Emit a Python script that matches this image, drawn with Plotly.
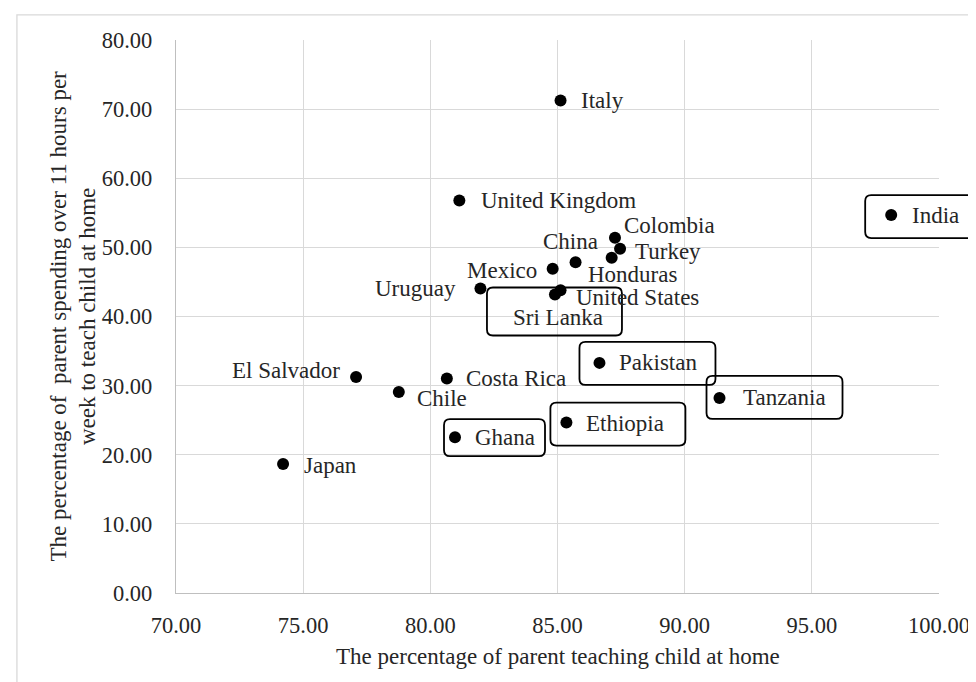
import plotly.graph_objects as go

# ---------------- data ----------------
countries = ["Italy", "United Kingdom", "Colombia", "Turkey", "Honduras", "China",
             "Mexico", "Uruguay", "United States", "Sri Lanka", "El Salvador",
             "Costa Rica", "Chile", "Ghana", "Japan", "Ethiopia", "Pakistan",
             "Tanzania", "India"]
teach_pct = [85.12, 81.14, 87.26, 87.46, 87.13, 85.71, 84.81, 81.97, 85.12, 84.90,
             77.08, 80.65, 78.76, 80.97, 74.21, 85.35, 86.65, 91.37, 98.12]
hours_pct = [71.26, 56.78, 51.38, 49.79, 48.49, 47.86, 46.90, 44.04, 43.81, 43.18,
             31.26, 31.02, 29.09, 22.54, 18.67, 24.65, 33.29, 28.22, 54.67]

x_title = "The percentage of parent teaching child at home"
y_title = "The percentage of \u00a0parent spending over 11 hours per<br>week to teach child at home"

X_RANGE = [70, 100]
Y_RANGE = [0, 80]

# ---------------- label placement (pixel offsets from the point) ----------------
# (xanchor, xshift, yshift)  yshift positive = up
label_pos = {
    "Italy": ("left", 18, 0),
    "United Kingdom": ("left", 20, 0),
    "Colombia": ("left", 7, 12),
    "Turkey": ("left", 13, -3),
    "Honduras": ("left", -26, -17),
    "China": ("center", -5, 21),
    "Mexico": ("right", -14, -2),
    "Uruguay": ("right", -22, 0),
    "United States": ("left", 13, -7),
    "Sri Lanka": ("center", 3, -23),
    "El Salvador": ("right", -14, 6),
    "Costa Rica": ("left", 17, 0),
    "Chile": ("left", 16, -7),
    "Ghana": ("left", 18, 0),
    "Japan": ("left", 19, -2),
    "Ethiopia": ("left", 18, -1),
    "Pakistan": ("left", 18, 0),
    "Tanzania": ("left", 21, 0),
    "India": ("left", 19, 0),
}
# boxed labels: (left, right, top, bottom) in screen px relative to the point (down positive)
boxes = {
    "Pakistan": (-20, 116, -21, 22),
    "Tanzania": (-13, 123, -22, 21),
    "Ethiopia": (-16, 119, -20, 23),
    "Ghana": (-11, 90, -18, 19),
    "India": (-26, 93, -20, 23),
    "Sri Lanka": (-68, 67, -7, 41),
}

FONT = "Liberation Serif, Times New Roman, serif"
TXT = "#262626"

fig = go.Figure()
fig.add_trace(go.Scatter(
    x=teach_pct, y=hours_pct, mode="markers",
    marker=dict(size=12, color="black"),
    text=countries, hoverinfo="text+x+y", showlegend=False,
))

annotations = []
for c, xv, yv in zip(countries, teach_pct, hours_pct):
    anc, xs, ys = label_pos[c]
    annotations.append(dict(
        x=xv, y=yv, xref="x", yref="y", text=c, showarrow=False,
        xanchor=anc, yanchor="middle", xshift=xs, yshift=ys,
        font=dict(family=FONT, size=23, color=TXT),
    ))

# axis titles
annotations.append(dict(
    x=0.5, y=0, xref="paper", yref="paper", text=x_title, showarrow=False,
    xanchor="center", yanchor="middle", yshift=-63,
    font=dict(family=FONT, size=23, color=TXT),
))
annotations.append(dict(
    x=0, y=0.5, xref="paper", yref="paper", text=y_title, showarrow=False,
    xanchor="center", yanchor="middle", xshift=-103, textangle=-90,
    font=dict(family=FONT, size=23, color=TXT),
))

def rounded_path(l, r, b, t, rad=6):
    return (f"M {l+rad},{b} L {r-rad},{b} Q {r},{b} {r},{b+rad} "
            f"L {r},{t-rad} Q {r},{t} {r-rad},{t} L {l+rad},{t} "
            f"Q {l},{t} {l},{t-rad} L {l},{b+rad} Q {l},{b} {l+rad},{b} Z")

shapes = []
for c, xv, yv in zip(countries, teach_pct, hours_pct):
    if c in boxes:
        L, R, T, B = boxes[c]
        shapes.append(dict(
            type="path", xref="paper", yref="paper",
            xsizemode="pixel", ysizemode="pixel",
            xanchor=(xv - X_RANGE[0]) / (X_RANGE[1] - X_RANGE[0]),
            yanchor=(yv - Y_RANGE[0]) / (Y_RANGE[1] - Y_RANGE[0]),
            path=rounded_path(L, R, -B, -T),
            line=dict(color="black", width=1.8),
            fillcolor="rgba(0,0,0,0)", layer="above",
        ))

# outer chart border
shapes.append(dict(type="rect", xref="paper", yref="paper",
                   x0=-0.2085, x1=1.3, y0=-0.4, y1=1.0453,
                   line=dict(color="#d9d9d9", width=1.3), fillcolor="rgba(0,0,0,0)",
                   layer="below"))

fig.update_layout(
    width=976, height=682,
    margin=dict(l=168, r=45, t=32, b=97),
    paper_bgcolor="white", plot_bgcolor="white",
    font=dict(family=FONT, size=22.5, color=TXT),
    annotations=annotations, shapes=shapes,
    xaxis=dict(range=X_RANGE, dtick=5, tick0=70, tickformat=".2f",
               showgrid=True, gridcolor="#d9d9d9", gridwidth=1.3,
               showline=True, linecolor="#bfbfbf", linewidth=1.3,
               zeroline=False, ticks="", ticklabelstandoff=12,
               tickfont=dict(family=FONT, size=22.5, color=TXT)),
    yaxis=dict(range=Y_RANGE, dtick=10, tick0=0, tickformat=".2f",
               showgrid=True, gridcolor="#d9d9d9", gridwidth=1.3,
               showline=True, linecolor="#bfbfbf", linewidth=1.3,
               zeroline=False, ticks="", ticklabelstandoff=18,
               tickfont=dict(family=FONT, size=22.5, color=TXT)),
)

fig.write_html("out.html")
